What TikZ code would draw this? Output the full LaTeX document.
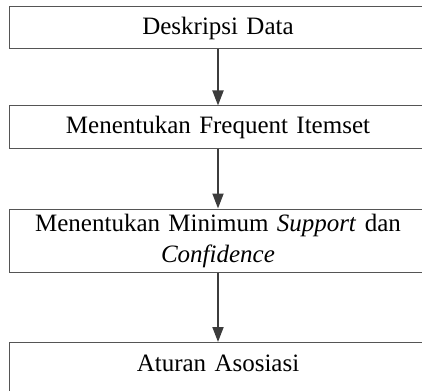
\documentclass[tikz,border=0pt]{standalone}
\usepackage{fontspec}
\setmainfont{Liberation Serif}
\usetikzlibrary{arrows.meta}
\definecolor{boxgray}{HTML}{555555}
\definecolor{arrowgray}{HTML}{3C3C3C}
\begin{document}
\begin{tikzpicture}[x=1pt,y=-1pt,
  box/.style={draw=boxgray, line width=1pt, minimum width=418pt, inner xsep=4pt, inner ysep=0pt,
    font=\fontsize{25}{31}\selectfont, align=center, text width=410pt},
  flow/.style={draw=arrowgray, line width=1.8pt, -{Triangle[length=15pt,width=11pt]}}]
\useasboundingbox (0,0) rectangle (422,390);
\clip (0,0) rectangle (422,390);
\node[box, minimum height=42pt] (b1) at (218,28) {Deskripsi Data};
\node[box, minimum height=42pt] (b2) at (218,127) {Menentukan Frequent Itemset};
\node[box, minimum height=63pt] (b3) at (218,240.5) {Menentukan Minimum \textit{Support} dan\\\textit{Confidence}};
\node[box, anchor=north, text height=29pt, text depth=27pt] (b4) at (218,342) {Aturan Asosiasi};
\draw[flow] (b1) -- (b2);
\draw[flow] (b2) -- (b3);
\draw[flow] (b3) -- (b4);
\end{tikzpicture}
\end{document}
